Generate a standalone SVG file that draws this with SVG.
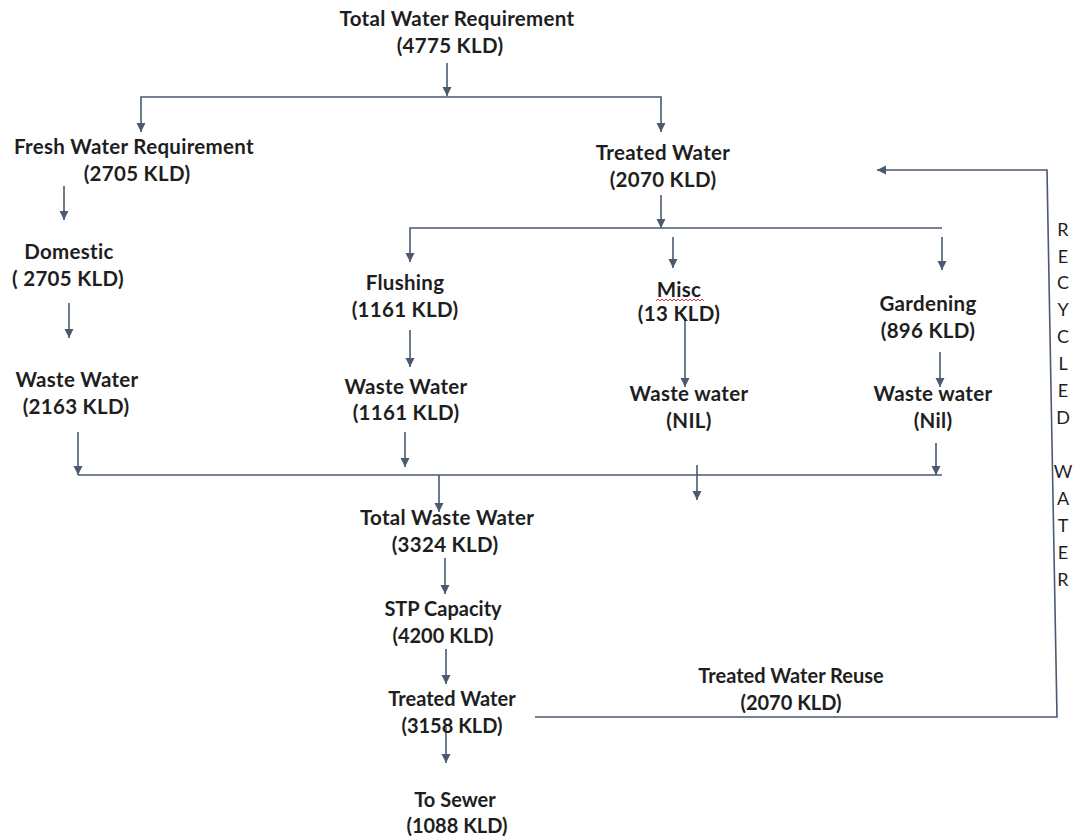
<svg xmlns="http://www.w3.org/2000/svg" width="1077" height="836" viewBox="0 0 1077 836">
<style>
.t{font-family:Lato,"Liberation Sans",sans-serif;font-size:20.5px;font-weight:bold;fill:#1e1e1e;text-anchor:middle;letter-spacing:0.3px;font-variant-ligatures:none}
.c{font-family:Lato,"Liberation Sans",sans-serif;font-size:20px;font-weight:bold;fill:#1e1e1e;text-anchor:middle;font-variant-ligatures:none}
.v{font-family:Lato,"Liberation Sans",sans-serif;font-size:18px;fill:#1e1e1e;text-anchor:middle}
.l{fill:none;stroke:#4a5a70;stroke-width:1.6}
.a{fill:none;stroke:#4a5a70;stroke-width:1.6;marker-end:url(#ah)}
</style>
<defs>
<marker id="ah" markerUnits="userSpaceOnUse" markerWidth="10" markerHeight="10" refX="9" refY="4.5" orient="auto">
<path d="M0,0 L9,4.5 L0,9 z" fill="#4a5a70"/>
</marker>
</defs>
<rect width="1077" height="836" fill="#ffffff"/>
<g id="connectors">
<path class="a" d="M447,63 V96"/>
<path class="a" d="M447,97 H141 V132"/>
<path class="a" d="M447,97 H661 V132"/>
<path class="a" d="M64,186 V220"/>
<path class="a" d="M69,303 V338"/>
<path class="a" d="M78,432 V475"/>
<path class="l" d="M78,475 H942"/>
<path class="a" d="M661,195 V228"/>
<path class="a" d="M661,228 H410 V262"/>
<path class="l" d="M661,228 H942"/>
<path class="a" d="M673,237 V268"/>
<path class="a" d="M942,237 V270"/>
<path class="a" d="M410,330 V367"/>
<path class="a" d="M685,318 V387"/>
<path class="a" d="M940,352 V387"/>
<path class="a" d="M405,432 V467"/>
<path class="a" d="M936,443 V475"/>
<path class="a" d="M697,465 V500"/>
<path class="a" d="M439,475 V512"/>
<path class="a" d="M445,558 V594"/>
<path class="a" d="M446,649 V684"/>
<path class="a" d="M446,727 V763"/>
<path class="a" d="M535,717 H1057 L1047,170 H877"/>
</g>
<g id="total-water"><text class="t" x="457" y="26">Total Water Requirement</text><text class="t" x="450" y="53">(4775 KLD)</text></g>
<g id="fresh-water"><text class="t" x="134" y="154">Fresh Water Requirement</text><text class="t" x="137" y="181">(2705 KLD)</text></g>
<g id="domestic"><text class="t" x="69" y="259">Domestic</text><text class="t" x="68" y="286">( 2705 KLD)</text></g>
<g id="waste-domestic"><text class="t" x="77" y="387">Waste Water</text><text class="t" x="76" y="414">(2163 KLD)</text></g>
<g id="treated-water"><text class="t" x="663" y="160">Treated Water</text><text class="t" x="663" y="187">(2070 KLD)</text></g>
<g id="flushing"><text class="t" x="405" y="290">Flushing</text><text class="t" x="405" y="317">(1161 KLD)</text></g>
<g id="waste-flushing"><text class="t" x="406" y="394">Waste Water</text><text class="t" x="406" y="420">(1161 KLD)</text></g>
<g id="misc"><text class="t" x="679" y="297">Misc</text><path d="M656,301 l2,-2 l2,2 l2,-2 l2,2 l2,-2 l2,2 l2,-2 l2,2 l2,-2 l2,2 l2,-2 l2,2 l2,-2 l2,2 l2,-2 l2,2 l2,-2 l2,2 l2,-2 l2,2 l2,-2 l2,2 l2,-2 l2,2" fill="none" stroke="#e03030" stroke-width="1"/><text class="t" x="679" y="321">(13 KLD)</text></g>
<g id="waste-misc"><text class="t" x="689" y="401">Waste water</text><text class="t" x="689" y="428">(NIL)</text></g>
<g id="gardening"><text class="t" x="928" y="311">Gardening</text><text class="t" x="928" y="338">(896 KLD)</text></g>
<g id="waste-gardening"><text class="t" x="933" y="401">Waste water</text><text class="t" x="933" y="428">(Nil)</text></g>
<g id="total-waste"><text class="t" x="447" y="525">Total Waste Water</text><text class="t" x="445" y="552">(3324 KLD)</text></g>
<g id="stp"><text class="c" x="443" y="616">STP Capacity</text><text class="c" x="443" y="643">(4200 KLD)</text></g>
<g id="treated-out"><text class="c" x="452" y="706">Treated Water</text><text class="c" x="452" y="733">(3158 KLD)</text></g>
<g id="sewer"><text class="c" x="455" y="807">To Sewer</text><text class="c" x="457" y="833">(1088 KLD)</text></g>
<g id="reuse"><text class="c" x="791" y="683">Treated Water Reuse</text><text class="c" x="791" y="710">(2070 KLD)</text></g>
<g id="recycled-label">
<text class="v" x="1063" y="236">R</text><text class="v" x="1063" y="263">E</text><text class="v" x="1063" y="289">C</text><text class="v" x="1063" y="316">Y</text><text class="v" x="1063" y="343">C</text><text class="v" x="1063" y="370">L</text><text class="v" x="1063" y="397">E</text><text class="v" x="1063" y="424">D</text>
<text class="v" x="1063" y="478">W</text><text class="v" x="1063" y="505">A</text><text class="v" x="1063" y="532">T</text><text class="v" x="1063" y="559">E</text><text class="v" x="1063" y="586">R</text>
</g>
</svg>
